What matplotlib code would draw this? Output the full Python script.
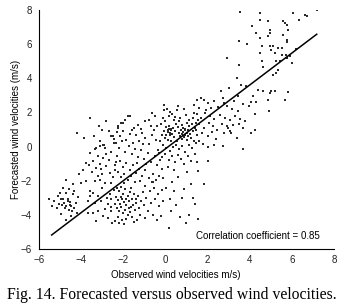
import numpy as np
import matplotlib.pyplot as plt

# observed / forecasted wind velocity pairs (m/s)
lower_left = [(-5.52, -3.10), (-5.36, -3.49), (-5.28, -3.19), (-5.12, -2.90), (-4.96, -3.10), (-4.80, -3.29),
              (-4.64, -3.19), (-4.48, -3.49), (-4.32, -3.58), (-4.72, -2.71), (-4.40, -2.80), (-4.56, -2.51),
              (-4.88, -2.41), (-4.72, -1.93), (-4.40, -2.22), (-4.00, -2.12), (-5.05, -3.35), (-4.90, -3.45),
              (-4.70, -3.50), (-4.55, -3.40), (-4.85, -3.05), (-4.60, -3.70), (-4.45, -3.75), (-4.25, -3.30),
              (-4.20, -3.90), (-4.70, -4.30), (-4.95, -3.95), (-5.15, -3.60), (-4.50, -4.05), (-4.35, -2.60),
              (-4.15, -2.95), (-5.00, -2.70), (-4.78, -3.62), (-4.62, -3.05), (-4.52, -3.25)]

left_arm = [(-3.56, 1.68), (-2.80, 1.50), (-3.00, 0.95), (-2.25, 1.10), (-1.70, 1.80), (-2.10, 1.40),
            (-2.50, 0.60), (-3.10, 0.30), (-2.90, 0.10), (-3.30, -0.10), (-2.56, 0.61), (-2.96, 0.12),
            (-3.12, 0.03), (-2.88, -0.07), (-3.36, -0.17), (-2.80, -0.46), (-3.20, -0.56), (-2.96, -0.66),
            (-3.44, -0.85), (-3.76, -0.95), (-3.12, -1.05), (-2.80, -1.15), (-3.28, -1.24), (-3.04, -1.34),
            (-2.64, -1.54), (-3.20, -1.73), (-3.12, -1.93), (-3.36, -2.02), (-2.88, -2.12), (-2.56, -2.12),
            (-3.76, -2.02), (-3.90, -1.40), (-3.60, -0.40), (-3.85, 0.50), (-4.20, 0.80), (-3.40, 0.60),
            (-2.70, 0.90), (-2.60, -0.30), (-2.70, -0.80), (-3.00, -1.60), (-2.50, -1.80), (-3.50, -1.50),
            (-3.65, -1.10), (-4.10, -1.60), (-2.45, 0.20), (-3.15, 1.20), (-2.35, -0.90), (-2.40, -1.35)]

lower_dense = [(-3.60, -2.61), (-3.44, -2.71), (-3.20, -2.90), (-3.60, -2.90), (-3.68, -3.19), (-3.36, -3.29),
               (-3.04, -3.19), (-2.72, -3.39), (-2.56, -3.10), (-2.88, -3.68), (-3.20, -3.78), (-3.44, -3.88),
               (-3.68, -3.88), (-2.56, -3.78), (-2.96, -4.07), (-3.28, -4.36), (-2.72, -4.17),
               (-2.30, -2.40), (-2.20, -2.60), (-2.10, -2.35), (-2.00, -2.75), (-1.90, -2.50), (-1.80, -2.90),
               (-1.70, -2.65), (-1.60, -3.10), (-1.50, -2.80), (-1.40, -3.30), (-2.35, -2.95), (-2.25, -3.15),
               (-2.15, -3.35), (-2.05, -3.05), (-1.95, -3.25), (-1.85, -3.45), (-1.75, -3.20), (-1.65, -3.55),
               (-1.55, -3.40), (-1.45, -3.70), (-2.30, -3.60), (-2.20, -3.80), (-2.10, -3.55), (-2.00, -3.90),
               (-1.90, -3.70), (-1.80, -4.00), (-1.70, -3.85), (-1.60, -4.15), (-2.25, -4.10), (-2.05, -4.30),
               (-1.85, -4.25), (-2.40, -4.35), (-1.50, -4.40), (-1.35, -4.30), (-1.25, -3.60), (-1.30, -2.90),
               (-1.15, -3.20), (-1.20, -4.00), (-2.45, -2.55), (-2.38, -3.35), (-1.98, -2.15), (-1.62, -2.40),
               (-1.88, -3.05), (-2.12, -2.95), (-1.72, -3.62), (-1.42, -3.05), (-2.18, -4.45), (-1.95, -4.55),
               (-2.55, -4.50), (-2.65, -2.75), (-2.75, -3.00), (-3.00, -2.45), (-2.60, -3.55)]

mid_band = [(-2.30, 0.85), (-2.15, 0.60), (-2.00, 0.90), (-1.85, 0.40), (-1.70, 0.75), (-1.55, 0.20),
            (-1.40, 0.65), (-1.25, 0.35), (-1.10, 0.80), (-0.95, 0.50), (-0.80, 0.15), (-0.65, 0.70),
            (-2.35, 0.20), (-2.20, -0.10), (-2.05, 0.30), (-1.90, -0.30), (-1.75, 0.05), (-1.60, -0.45),
            (-1.45, -0.15), (-1.30, -0.60), (-1.15, -0.20), (-1.00, -0.75), (-0.85, -0.35), (-0.70, -0.90),
            (-2.30, -0.55), (-2.15, -0.85), (-2.00, -1.20), (-1.85, -0.95), (-1.70, -1.40), (-1.55, -1.10),
            (-1.40, -1.55), (-1.25, -1.30), (-1.10, -1.70), (-0.95, -1.40), (-0.80, -1.85), (-0.60, -1.60),
            (-2.25, -1.50), (-2.10, -1.80), (-1.95, -1.60), (-1.80, -1.95), (-1.65, -1.75), (-2.40, -1.10),
            (-1.76, 1.77), (-1.92, 1.58), (-2.00, 1.40), (-2.24, 1.19), (-1.28, 1.28), (-0.96, 1.48),
            (-0.80, 1.55), (-0.64, 1.97), (-0.50, 1.80), (-1.15, 1.05), (-1.50, 1.10), (-0.70, 1.20),
            (-0.55, 0.95), (-0.45, 0.40), (-0.35, -0.20), (-0.50, -0.55), (-0.40, -1.10), (-0.25, -0.80),
            (-1.05, 0.15), (-1.60, 0.95), (-2.45, 0.45), (-1.35, -0.95), (-0.90, -1.05), (-0.15, -1.30),
            (-0.30, -1.70), (-0.60, -2.10), (-1.20, -2.00), (-1.45, -2.10)]

center = [(-0.08, 2.16), (0.08, 2.20), (0.24, 2.05), (0.16, 1.80), (0.32, 1.90), (0.56, 2.16), (0.88, 2.20),
          (0.96, 1.87), (0.40, 1.57), (0.00, 1.48), (0.64, 1.48), (0.80, 1.28), (1.04, 1.38), (1.12, 1.18),
          (-0.40, 1.20), (-0.20, 1.30), (0.05, 1.15), (0.15, 1.05), (0.25, 0.95), (0.10, 0.85), (0.30, 0.75),
          (0.20, 0.65), (0.35, 1.10), (0.45, 0.90), (-0.05, 0.90), (-0.15, 0.70), (0.00, 0.50), (0.10, 0.40),
          (0.25, 0.30), (0.40, 0.55), (0.55, 0.35), (0.65, 0.80), (0.75, 1.00), (0.85, 0.85), (0.95, 0.70),
          (1.05, 0.95), (1.15, 0.75), (0.90, 0.55), (1.00, 0.40), (1.20, 0.50), (1.30, 0.90), (1.40, 1.10),
          (1.25, 1.35), (0.70, 0.60), (0.80, 0.45), (0.60, 1.15), (0.50, 1.30), (1.10, 1.55), (1.35, 0.30),
          (0.85, 1.10), (0.95, 1.05), (1.00, 0.80), (1.08, 0.62), (0.92, 0.95), (0.78, 0.72), (0.18, 1.22),
          (0.28, 1.05), (0.12, 0.95), (0.22, 0.80), (0.05, 0.70), (-0.25, 0.30), (-0.10, 0.10), (0.05, -0.10),
          (0.20, -0.25), (0.35, -0.05), (0.50, 0.10), (0.65, -0.15), (0.80, 0.05), (0.95, -0.30), (1.10, 0.10),
          (1.25, -0.10), (1.45, 0.20), (-0.30, -0.40), (-0.15, -0.60), (0.00, -0.45), (0.15, -0.80),
          (0.30, -0.55), (0.45, -0.90), (0.60, -0.50), (0.75, -0.75), (0.90, -1.00), (1.05, -0.55),
          (1.20, -0.85), (1.40, -0.45), (-0.10, 1.70), (0.45, 1.75), (0.70, 1.65), (1.30, 1.65), (1.45, 1.40),
          (1.50, 0.70), (0.10, -1.20), (0.40, -1.40), (-0.05, 2.45), (0.60, 2.40)]

right_band = [(1.52, 2.74), (1.68, 2.84), (1.84, 2.74), (2.00, 2.55), (1.36, 2.45), (1.60, 2.26), (1.92, 2.16),
              (2.16, 2.26), (2.50, 2.30), (2.90, 2.35), (3.15, 2.20), (3.45, 2.10), (3.70, 2.50), (3.95, 2.40),
              (4.05, 2.60), (2.32, 2.65), (2.64, 3.23), (2.72, 2.84), (2.80, 2.55), (3.01, 3.43), (3.25, 2.65),
              (3.44, 2.94), (1.50, 1.90), (1.70, 1.70), (1.90, 1.95), (2.10, 1.80), (2.30, 1.60), (2.60, 1.85),
              (2.85, 1.70), (3.05, 1.55), (3.30, 1.80), (3.55, 1.60), (3.80, 1.50), (1.60, 1.30), (1.85, 1.10),
              (2.05, 1.40), (2.25, 1.20), (2.45, 1.00), (2.70, 1.30), (2.95, 1.10), (3.20, 1.25), (3.50, 1.35),
              (1.45, 0.95), (1.75, 0.80), (2.00, 0.60), (2.20, 0.85), (2.40, 0.45), (2.72, 0.02), (2.32, 0.12),
              (2.80, 0.80), (3.12, 0.77), (4.08, 0.80), (3.68, -0.13), (1.60, 0.35), (1.80, 0.15), (2.00, -0.05),
              (1.52, -0.89), (2.00, -0.85), (3.05, 0.90), (3.70, 1.10), (4.25, 1.00), (2.90, 1.20), (3.40, 0.50),
              (1.35, 1.95), (1.55, 1.55)]

upper_right = [(3.52, 7.91), (4.48, 7.82), (4.48, 7.43), (4.13, 7.07), (4.29, 6.64), (3.49, 6.16), (3.87, 6.00),
               (4.48, 6.35), (4.56, 5.87), (4.48, 5.48), (4.56, 5.00), (2.93, 5.18), (3.49, 4.79), (3.39, 4.01),
               (4.64, 4.69), (3.60, 3.62), (3.84, 3.52), (4.40, 3.33), (4.64, 3.23), (4.16, 2.94), (6.07, 7.82),
               (6.63, 7.72), (6.71, 7.62), (7.19, 8.00), (4.87, 7.33), (5.59, 7.33), (5.67, 7.23), (6.34, 7.43),
               (5.75, 7.13), (4.98, 6.84), (4.98, 6.65), (5.83, 6.80), (5.59, 6.55), (4.87, 6.45), (5.75, 6.22),
               (5.75, 6.10), (4.95, 5.87), (5.11, 5.87), (5.03, 5.67), (5.35, 5.77), (5.51, 5.77), (5.19, 5.48),
               (5.51, 5.38), (5.70, 5.38), (5.75, 5.18), (5.91, 5.28), (5.43, 4.99), (5.27, 4.99), (5.99, 4.89),
               (5.32, 4.50), (5.27, 4.30), (5.11, 4.21), (5.03, 3.23), (5.19, 3.23), (4.95, 3.13), (5.83, 3.17),
               (5.67, 2.75), (4.87, 2.75), (4.92, 2.10), (4.25, 1.90), (6.20, 5.70), (4.30, 2.60)]

below_right = [(1.55, -1.44), (1.84, -2.22), (1.33, -3.00), (1.39, -3.39), (1.55, -4.23), (0.16, -4.75),
               (0.96, -4.46), (1.10, -4.00), (0.30, -2.10), (0.60, -1.80), (0.90, -2.50), (0.20, -3.10),
               (0.50, -3.40), (0.80, -3.00), (1.00, -1.50), (0.40, -2.60), (0.70, -4.10), (1.20, -2.20),
               (0.05, -2.40), (0.25, -3.80), (-0.95, -2.30), (-0.75, -2.60), (-0.55, -2.45), (-0.35, -2.80),
               (-0.15, -2.55), (-0.90, -3.00), (-0.70, -3.30), (-0.50, -3.10), (-0.30, -3.50), (-0.10, -3.20),
               (-0.85, -3.75), (-0.60, -4.00), (-0.40, -4.30), (-1.05, -2.65), (-1.00, -3.45), (-0.20, -4.05),
               (-0.65, -2.05), (-0.45, -1.95), (-0.10, -1.85), (-0.95, -4.20)]

# fitted line end points
fit_x = [-5.40, 7.18]
fit_y = [-5.18, 6.58]

pts = np.array(lower_left + left_arm + lower_dense + mid_band + center + right_band + upper_right + below_right)

fig = plt.figure(figsize=(3.44, 3.06), dpi=100)
ax = fig.add_axes([39 / 344, 57 / 306, 295 / 344, 239 / 306])

ax.scatter(pts[:, 0], pts[:, 1], s=1.4, marker='s', color='#2a2a2a', linewidths=0)
ax.plot(fit_x, fit_y, color='black', lw=1.1)

ax.set_xlim(-6, 8)
ax.set_ylim(-6, 8)
ax.set_xticks(range(-6, 9, 2))
ax.set_yticks(range(-6, 9, 2))
ax.spines['top'].set_visible(False)
ax.spines['right'].set_visible(False)
ax.tick_params(length=0, labelsize=7, colors='#222222')
ax.tick_params(axis='y', pad=5)
ax.tick_params(axis='x', pad=4)
for lab in ax.get_xticklabels() + ax.get_yticklabels():
    lab.set_family('Liberation Sans')

ax.text(0.95, 0.055, 'Correlation coefficient = 0.85', transform=ax.transAxes, ha='right', va='center',
        fontsize=7, family='Liberation Sans')

fig.text(16 / 344, 1 - 129 / 306, 'Forecasted wind velocities (m/s)', rotation=90, ha='center', va='center',
         fontsize=7, family='Liberation Sans')
fig.text(176 / 344, 1 - 275 / 306, 'Observed wind velocities m/s)', ha='center', va='center',
         fontsize=7, family='Liberation Sans')
fig.text(172 / 344, 1 - 295 / 306, 'Fig. 14. Forecasted versus observed wind velocities.', ha='center',
         va='center', fontsize=11.3, family='Liberation Serif')

fig.savefig('out.png', dpi=100)
